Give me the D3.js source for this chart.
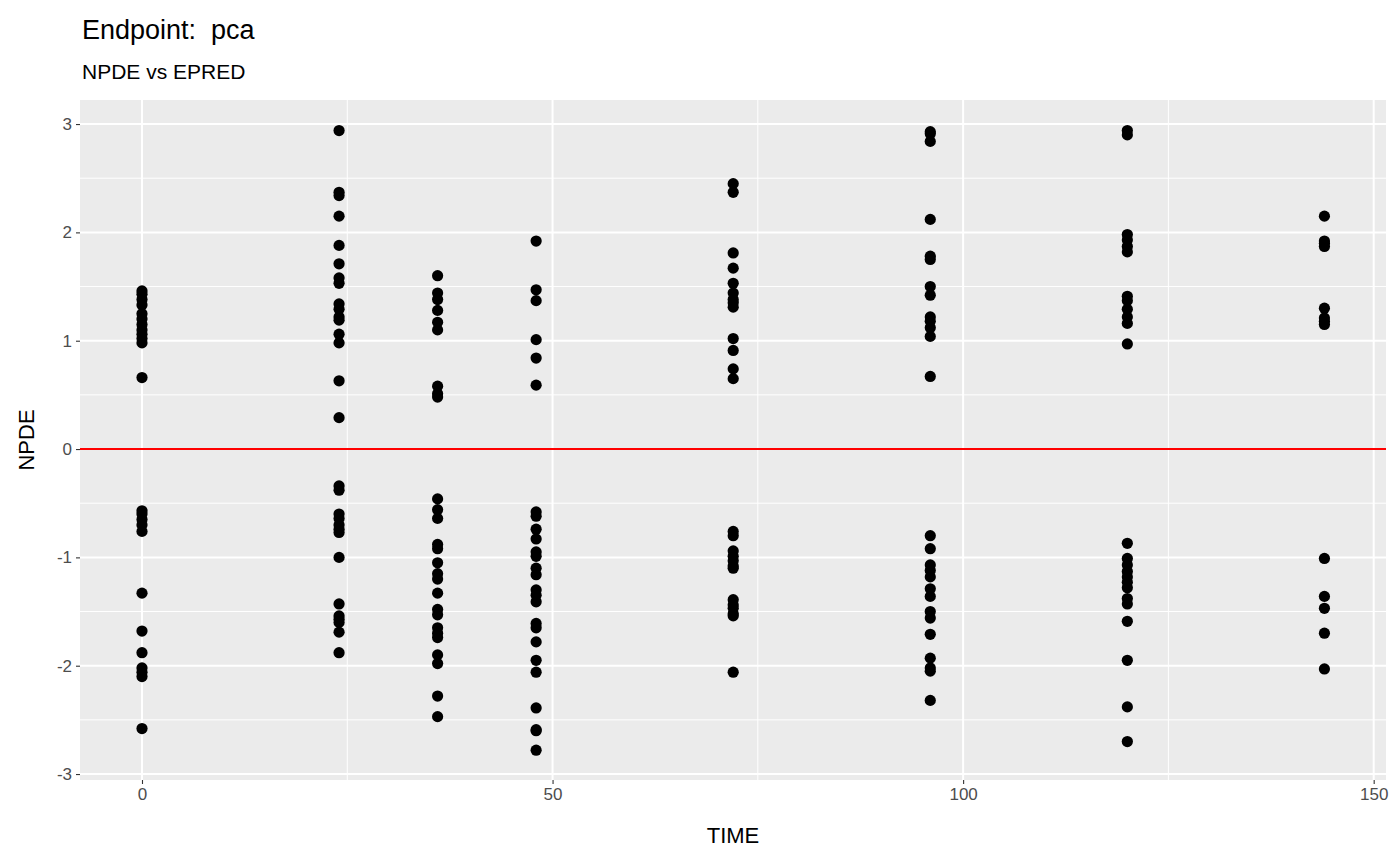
<!DOCTYPE html>
<html><head><meta charset="utf-8">
<script src="https://cdn.jsdelivr.net/npm/d3@7"></script>
<style>body{margin:0;background:#fff}text{font-family:"Liberation Sans",Arial,sans-serif}</style>
</head><body><svg id="c" width="1400" height="865"></svg>
<script>
const times = [0, 24, 36, 48, 72, 96, 120, 144];
const npdeValues = [
 [1.46,1.43,1.38,1.33,1.25,1.2,1.15,1.1,1.06,1.02,0.98,0.66,-0.57,-0.6,-0.65,-0.7,-0.76,-1.33,-1.68,-1.88,-2.02,-2.06,-2.1,-2.58],
 [2.94,2.37,2.34,2.15,1.88,1.71,1.58,1.53,1.34,1.29,1.22,1.19,1.06,0.98,0.63,0.29,-0.34,-0.38,-0.6,-0.64,-0.7,-0.74,-0.77,-1.0,-1.43,-1.54,-1.57,-1.6,-1.69,-1.88],
 [1.6,1.44,1.38,1.28,1.17,1.1,0.58,0.51,0.48,-0.46,-0.56,-0.64,-0.88,-0.92,-1.05,-1.15,-1.2,-1.33,-1.48,-1.53,-1.65,-1.7,-1.74,-1.9,-1.98,-2.28,-2.47],
 [1.92,1.47,1.37,1.01,0.84,0.59,-0.58,-0.62,-0.74,-0.83,-0.95,-0.99,-1.1,-1.16,-1.3,-1.35,-1.41,-1.61,-1.65,-1.78,-1.95,-2.06,-2.39,-2.59,-2.6,-2.78],
 [2.45,2.37,1.81,1.67,1.53,1.44,1.38,1.35,1.31,1.02,0.91,0.74,0.65,-0.76,-0.8,-0.94,-0.99,-1.03,-1.08,-1.1,-1.39,-1.44,-1.47,-1.52,-1.54,-2.06],
 [2.93,2.91,2.84,2.12,1.78,1.75,1.5,1.42,1.22,1.18,1.12,1.04,0.67,-0.8,-0.92,-1.07,-1.12,-1.18,-1.29,-1.36,-1.5,-1.56,-1.71,-1.93,-2.02,-2.05,-2.32],
 [2.94,2.9,1.98,1.93,1.87,1.82,1.41,1.37,1.29,1.22,1.16,0.97,-0.87,-1.01,-1.07,-1.13,-1.18,-1.23,-1.28,-1.38,-1.43,-1.59,-1.95,-2.38,-2.7],
 [2.15,1.92,1.9,1.87,1.3,1.21,1.18,1.15,-1.01,-1.36,-1.47,-1.7,-2.03]
];
const xTicks = [0, 50, 100, 150];
const yTicks = [-3, -2, -1, 0, 1, 2, 3];
const title = "Endpoint:  pca", subtitle = "NPDE vs EPRED";

const points = [];
times.forEach((t, i) => npdeValues[i].forEach(v => points.push({t, v})));

const svg = d3.select("#c");
const L = 80, R = 1386, T = 100, B = 780;
const x = d3.scaleLinear().domain([-7.55, 151.5]).range([L, R]);
const y = d3.scaleLinear().domain([-3.055, 3.222]).range([B, T]);

svg.append("rect").attr("x", L).attr("y", T).attr("width", R - L).attr("height", B - T).attr("fill", "#ebebeb");
const minorX = [25, 75, 125], minorY = [-2.5, -1.5, -0.5, 0.5, 1.5, 2.5];
minorX.forEach(d => svg.append("line").attr("x1", x(d)).attr("x2", x(d)).attr("y1", T).attr("y2", B).attr("stroke", "#fff").attr("stroke-width", 1));
minorY.forEach(d => svg.append("line").attr("y1", y(d)).attr("y2", y(d)).attr("x1", L).attr("x2", R).attr("stroke", "#fff").attr("stroke-width", 1));
xTicks.forEach(d => svg.append("line").attr("x1", x(d)).attr("x2", x(d)).attr("y1", T).attr("y2", B).attr("stroke", "#fff").attr("stroke-width", 2));
yTicks.forEach(d => svg.append("line").attr("y1", y(d)).attr("y2", y(d)).attr("x1", L).attr("x2", R).attr("stroke", "#fff").attr("stroke-width", 2));

const xa = svg.append("g").attr("transform", `translate(0,${B})`).call(d3.axisBottom(x).tickValues(xTicks).tickSize(4).tickPadding(4));
const ya = svg.append("g").attr("transform", `translate(${L},0)`).call(d3.axisLeft(y).tickValues(yTicks).tickSize(4).tickPadding(4).tickFormat(d => String(d)));
[xa, ya].forEach(a => {
  a.select(".domain").remove();
  a.selectAll("line").attr("stroke", "#333").attr("stroke-width", 1.1);
  a.selectAll("text").attr("fill", "#4d4d4d").attr("font-size", 17).attr("font-family", "Liberation Sans, Arial, sans-serif");
});

svg.append("line").attr("x1", L).attr("x2", R).attr("y1", y(0)).attr("y2", y(0)).attr("stroke", "red").attr("stroke-width", 2);

svg.append("g").selectAll("circle").data(points).join("circle")
  .attr("cx", d => x(d.t)).attr("cy", d => y(d.v)).attr("r", 5.6).attr("fill", "#000");

svg.append("text").attr("x", (L + R) / 2).attr("y", 843).attr("text-anchor", "middle").attr("font-size", 22).text("TIME");
svg.append("text").attr("transform", `translate(34,${(T + B) / 2}) rotate(-90)`).attr("text-anchor", "middle").attr("font-size", 22).text("NPDE");
svg.append("text").attr("x", 82).attr("y", 39).attr("font-size", 27).attr("xml:space", "preserve").style("white-space", "pre").text(title);
svg.append("text").attr("x", 82).attr("y", 79).attr("font-size", 21).text(subtitle);
</script></body></html>
